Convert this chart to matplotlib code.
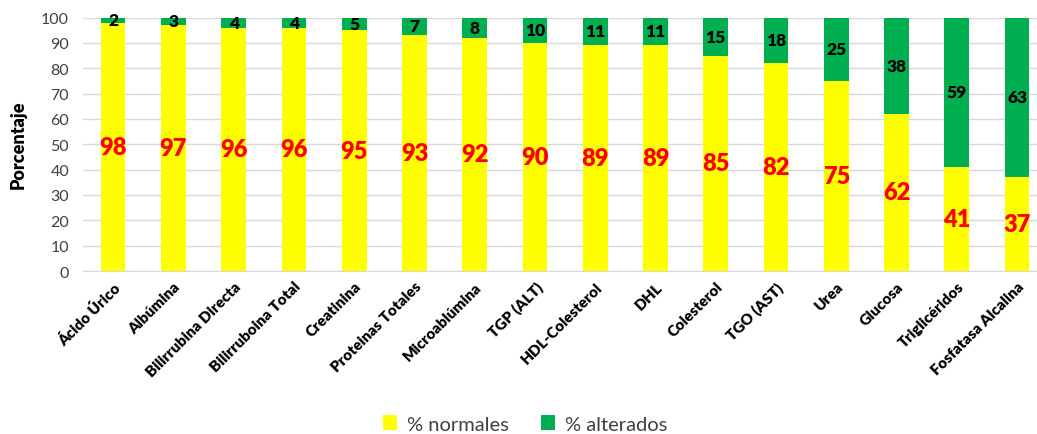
import matplotlib
matplotlib.use("Agg")
import matplotlib.pyplot as plt
from matplotlib.patches import Patch

categories = ["Ácido Úrico", "Albúmina", "Bilirrubina Directa", "Bilirruboina Total",
              "Creatinina", "Proteinas Totales", "Microablúmina", "TGP (ALT)",
              "HDL-Colesterol", "DHL", "Colesterol", "TGO (AST)", "Urea",
              "Glucosa", "Triglicéridos", "Fosfatasa Alcalina"]
normales = [98, 97, 96, 96, 95, 93, 92, 90, 89, 89, 85, 82, 75, 62, 41, 37]
alterados = [2, 3, 4, 4, 5, 7, 8, 10, 11, 11, 15, 18, 25, 38, 59, 63]
yticks = list(range(0, 101, 10))

plt.rcParams['font.family'] = ['Lato', 'DejaVu Sans']

W, H = 1037, 435
fig = plt.figure(figsize=(W / 100, H / 100), dpi=100)
ax = fig.add_axes([83 / W, (H - 272) / H, (W - 83) / W, (272 - 18.5) / H])

x = list(range(len(categories)))
yellow = "#FFFF00"
green = "#00B050"
ax.bar(x, normales, width=0.41, color=yellow, zorder=2)
ax.bar(x, alterados, width=0.41, bottom=normales, color=green, zorder=2)

for xi, n, a in zip(x, normales, alterados):
    ax.text(xi, n / 2, str(n), ha="center", va="center", color="#FF0000",
            fontsize=17, fontweight="heavy", zorder=3)
    ax.text(xi, n + a / 2, str(a), ha="center", va="center", color="black",
            fontsize=12.5, fontweight="heavy", zorder=3)

ax.set_ylim(0, 100)
ax.set_xlim(-0.5, 15.33)
ax.set_yticks(yticks)
ax.yaxis.grid(True, color="#D9D9D9", linewidth=1, zorder=0)
ax.set_axisbelow(True)
for s in ["top", "right", "left"]:
    ax.spines[s].set_visible(False)
ax.spines["bottom"].set_color("#D9D9D9")
ax.tick_params(axis="both", length=0, labelsize=11.5, colors="#404040")
ax.tick_params(axis="y", pad=10)
ax.set_xticks(x)
ax.set_xticklabels(categories, rotation=45, ha="right", rotation_mode="anchor",
                   fontweight="heavy", fontsize=11, color="black")
ax.tick_params(axis="x", pad=6)
ax.set_ylabel("Porcentaje", fontsize=13, fontweight="heavy", labelpad=10)

handles = [Patch(facecolor=yellow, label="% normales"),
           Patch(facecolor=green, label="% alterados")]
fig.legend(handles=handles, loc="center", bbox_to_anchor=(525 / W, 1 - 425 / H),
           ncol=2, frameon=False, fontsize=14.5, handlelength=0.7, handleheight=0.7,
           columnspacing=1.6, handletextpad=0.5, labelcolor="#404040")

fig.savefig("out.png", dpi=100)
